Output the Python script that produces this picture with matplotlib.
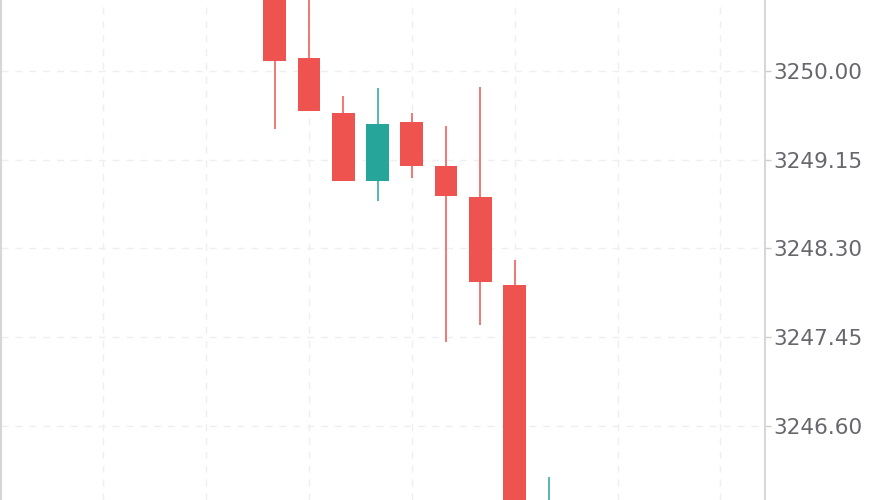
import numpy as np
import matplotlib.pyplot as plt

# candle data (index 0 = first visible candle)
idx = [0, 1, 2, 3, 4, 5, 6, 7, 8]
opens = [3250.85, 3250.125, 3249.598, 3248.946, 3249.51, 3249.09, 3248.793, 3247.95, 3245.20]
highs = [3251.00, 3250.950, 3249.760, 3249.837, 3249.598, 3249.473, 3249.847, 3248.19, 3246.11]
lows = [3249.444, 3249.617, 3248.946, 3248.755, 3248.975, 3247.405, 3247.567, 3245.30, 3245.00]
closes = [3250.096, 3249.617, 3248.946, 3249.49, 3249.09, 3248.80, 3247.979, 3245.50, 3245.70]

yticks = [3250.00, 3249.15, 3248.30, 3247.45, 3246.60]
xgrid = [-5, -2, 1, 4, 7, 10, 13]

up_col = '#26a69a'
down_col = '#ef5350'

fig = plt.figure(figsize=(8.88, 5), dpi=100)
ax = fig.add_axes([1 / 888, 0, 764 / 888, 1])

o = np.array(opens)
c = np.array(closes)
cols = [up_col if cc >= oo else down_col for oo, cc in zip(o, c)]

ax.vlines(idx, lows, highs, colors=cols, linewidth=1.1, zorder=2)
ax.bar(idx, np.abs(c - o), bottom=np.minimum(o, c), width=0.66,
       color=cols, linewidth=0, zorder=3)

ax.set_xlim(-7.98, 14.30)
ax.set_ylim(3245.891, 3250.680)

# grid
for y in yticks:
    ax.axhline(y, color='#efefef', linewidth=1, linestyle=(0, (5, 5)), zorder=0)
for x in xgrid:
    ax.axvline(x, color='#efefef', linewidth=1, linestyle=(0, (5, 5)), zorder=0)

ax.yaxis.tick_right()
ax.set_yticks(yticks)
ax.set_yticklabels([f"{v:.2f}" for v in yticks])
ax.tick_params(axis='y', length=4, width=1, color='#d0d0d0', labelsize=15.5,
               labelcolor='#66666d', pad=2)
ax.set_xticks([])

for s in ['top', 'bottom']:
    ax.spines[s].set_visible(False)
ax.spines['right'].set_color('#d0d0d0')
ax.spines['right'].set_linewidth(1.2)
ax.spines['left'].set_color('#d6d6d6')
ax.spines['left'].set_linewidth(1.5)

fig.savefig('out.png', dpi=100)
